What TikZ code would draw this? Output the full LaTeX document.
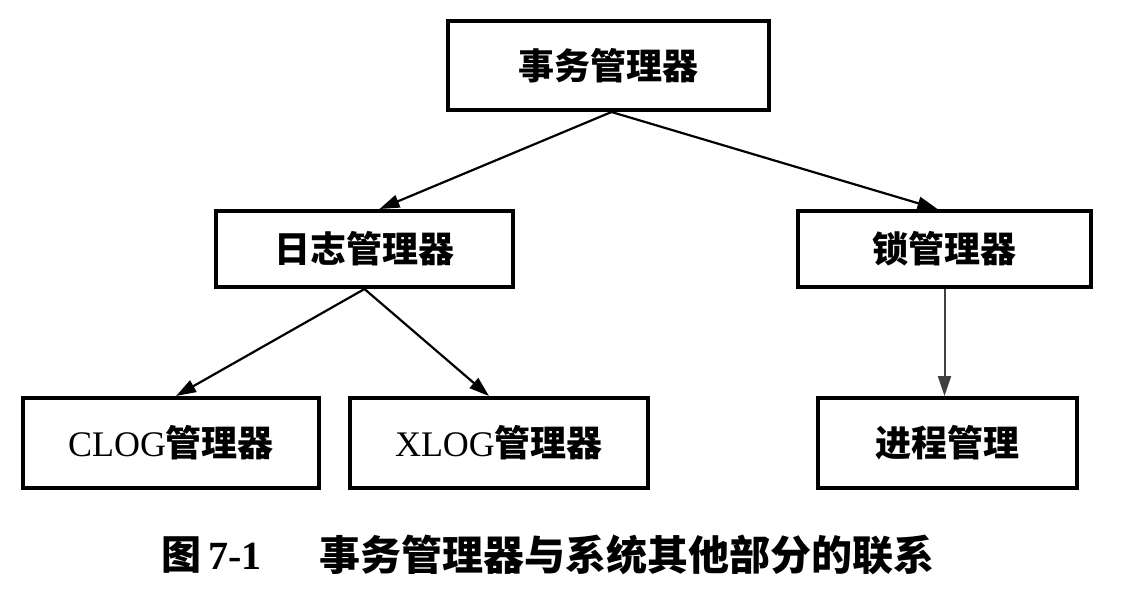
\documentclass[tikz,border=0pt]{standalone}
\usepackage{fontspec}
\setmainfont{Liberation Serif}
\newfontfamily\cjk{Noto Sans CJK SC}
\usetikzlibrary{arrows.meta}
\tikzset{
  box/.style={draw=black, line width=4pt, rectangle, inner sep=0pt,
    font=\fontsize{36}{40}\selectfont},
  conn/.style={line width=2.2pt, -{Triangle[length=20pt,width=13pt]}},
  vconn/.style={line width=2pt, draw=black!75, -{Triangle[length=20pt,width=13pt]}}
}
\begin{document}
\begin{tikzpicture}[x=1pt,y=-1pt]
\path[use as bounding box, fill=white] (0,0) rectangle (1128,590);
\node[box, minimum width=321pt, minimum height=89pt] (tm) at (608.5,65.5) {\cjk\bfseries 事务管理器};
\node[box, minimum width=297pt, minimum height=76pt] (log) at (364.5,249) {\cjk\bfseries 日志管理器};
\node[box, minimum width=293pt, minimum height=76pt] (lock) at (944.5,249) {\cjk\bfseries 锁管理器};
\node[box, minimum width=296pt, minimum height=90pt] (clog) at (171,443) {CLOG{\cjk\bfseries 管理器}};
\node[box, minimum width=298pt, minimum height=90pt] (xlog) at (499,443) {XLOG{\cjk\bfseries 管理器}};
\node[box, minimum width=259pt, minimum height=90pt] (proc) at (947.5,443) {\cjk\bfseries 进程管理};
\draw[conn] ([xshift=3pt]tm.south) -- ([xshift=15pt]log.north);
\draw[conn] ([xshift=3pt]tm.south) -- ([xshift=-7pt]lock.north);
\draw[conn] (log.south) -- ([xshift=5pt]clog.north);
\draw[conn] (log.south) -- ([xshift=-10pt]xlog.north);
\draw[vconn] (lock.south) -- (lock.south |- proc.north);
\node[font=\fontsize{40}{44}\selectfont, anchor=west] (capnum) at (158,555) {{\cjk\bfseries 图}\,\textbf{7-1}};
\node[font=\fontsize{41}{44}\selectfont, anchor=west] (cap) at (316,555) {\cjk\bfseries 事务管理器与系统其他部分的联系};
\end{tikzpicture}
\end{document}
